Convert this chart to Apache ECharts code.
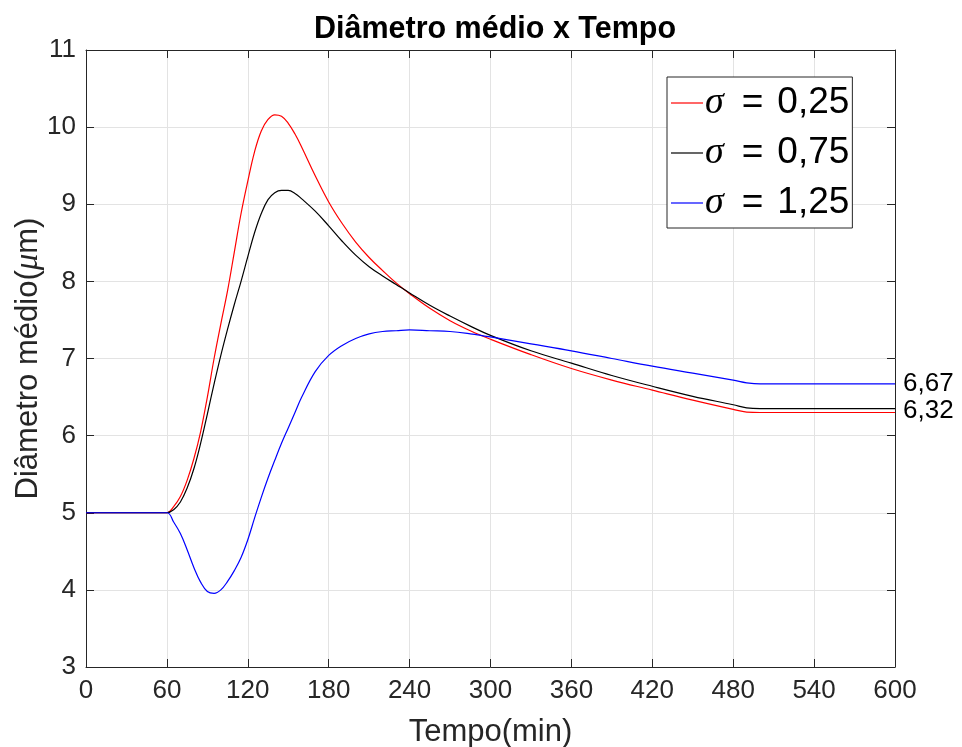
<!DOCTYPE html>
<html>
<head>
<meta charset="utf-8">
<script src="https://cdn.jsdelivr.net/npm/echarts@6/dist/echarts.min.js"></script>
<style>html,body{margin:0;padding:0;background:#fff;}#c{width:962px;height:747px;}</style>
</head>
<body>
<div id="c"></div>
<script>
var times = [0, 30, 60, 65, 70, 75, 80, 85, 90, 95, 100, 105, 110, 115, 120, 125, 130, 135, 140, 145, 150, 155, 160, 170, 180, 190, 200, 210, 220, 230, 240, 255, 270, 285, 300, 330, 360, 390, 420, 450, 480, 490, 500, 550, 600];
var sigma025 = [5, 5, 5, 5.08, 5.21, 5.42, 5.7, 6.05, 6.5, 7.0, 7.45, 7.88, 8.38, 8.88, 9.3, 9.68, 9.95, 10.1, 10.16, 10.14, 10.05, 9.91, 9.74, 9.37, 9.03, 8.75, 8.51, 8.31, 8.14, 7.98, 7.84, 7.65, 7.49, 7.36, 7.25, 7.05, 6.87, 6.72, 6.59, 6.46, 6.34, 6.305, 6.30, 6.30, 6.30];
var sigma075 = [5, 5, 5, 5.04, 5.14, 5.32, 5.57, 5.9, 6.28, 6.67, 7.04, 7.38, 7.7, 8.0, 8.32, 8.63, 8.88, 9.06, 9.15, 9.18, 9.18, 9.14, 9.07, 8.91, 8.72, 8.52, 8.34, 8.19, 8.07, 7.96, 7.85, 7.69, 7.55, 7.42, 7.3, 7.1, 6.94, 6.78, 6.64, 6.51, 6.4, 6.36, 6.35, 6.35, 6.35];
var sigma125 = [5, 5, 5, 4.88, 4.73, 4.52, 4.29, 4.1, 3.98, 3.955, 4.0, 4.11, 4.25, 4.42, 4.65, 4.93, 5.2, 5.45, 5.68, 5.9, 6.1, 6.3, 6.5, 6.83, 7.04, 7.17, 7.26, 7.32, 7.35, 7.36, 7.37, 7.36, 7.35, 7.32, 7.28, 7.19, 7.10, 7.0, 6.90, 6.81, 6.72, 6.685, 6.67, 6.67, 6.67];
var seriesNames = ['σ = 0,25', 'σ = 0,75', 'σ = 1,25'];
var endLabels = ['6,67', '6,32'];
var endValues = [6.67, 6.32];
var xTicks = {min: 0, max: 600, interval: 60};
var yTicks = {min: 3, max: 11, interval: 1};

function pairs(ys) { return times.map(function (t, i) { return [t, ys[i]]; }); }

var FONT = 'Liberation Sans, Arial, Helvetica, sans-serif';
var SERIF = 'Liberation Serif, DejaVu Serif, serif';
var AX = '#262626';
var GRID = '#e3e3e3';

function lineSeries(name, ys, color, mp) {
  var s = {
    name: name, type: 'line', data: pairs(ys), showSymbol: false, symbol: 'none',
    smooth: 0.4,
    lineStyle: {color: color, width: 1.2}, itemStyle: {color: color},
    xAxisIndex: 0, yAxisIndex: 0, z: 3
  };
  if (mp) s.markPoint = mp;
  return s;
}
function endMark(label, value) {
  return {
    symbol: 'circle', symbolSize: 0, silent: true,
    data: [{coord: [600, value], value: label}],
    label: {show: true, position: 'right', distance: 8, formatter: label, color: '#000', fontSize: 26, fontFamily: FONT}
  };
}

var chart = echarts.init(document.getElementById('c'), null, {renderer: 'canvas'});
chart.setOption({
  backgroundColor: '#fff',
  animation: false,
  title: {
    text: 'Diâmetro médio x Tempo', left: 490, textAlign: 'center', top: 9,
    textStyle: {fontFamily: FONT, fontWeight: 'bold', fontSize: 30.5, color: '#000'}
  },
  grid: {left: 86, right: 67, top: 50, bottom: 80, containLabel: false, outerBoundsMode: 'none'},
  legend: {
    orient: 'vertical', left: 667, top: 77,
    data: seriesNames,
    backgroundColor: '#fff', borderColor: AX, borderWidth: 1,
    padding: [1, 3, 0, 4], itemGap: 0,
    icon: 'rect', itemWidth: 32, itemHeight: 1.2,
    formatter: function (n) {
      var parts = n.split(' = ');
      return '{s|σ}{g| }={g2| }' + parts[1];
    },
    textStyle: {
      fontFamily: FONT, fontSize: 37, color: '#000', lineHeight: 50, padding: [0, 0, 0, -3],
      rich: {
        s: {fontFamily: SERIF, fontStyle: 'italic', fontSize: 38, color: '#000', lineHeight: 50},
        g: {fontSize: 37, width: 18, lineHeight: 50},
        g2: {fontSize: 37, width: 14, lineHeight: 50}
      }
    }
  },
  xAxis: [{
    type: 'value', min: xTicks.min, max: xTicks.max, interval: xTicks.interval,
    name: 'Tempo(min)', nameLocation: 'middle', nameGap: 50, nameMoveOverlap: false,
    nameTextStyle: {fontFamily: FONT, fontSize: 31, color: AX},
    axisLine: {show: true, onZero: false, lineStyle: {color: AX, width: 1}},
    axisTick: {show: true, inside: true, length: 8, lineStyle: {color: AX}},
    axisLabel: {fontFamily: FONT, fontSize: 26, color: AX, margin: 11},
    splitLine: {show: true, lineStyle: {color: GRID, width: 1}}
  }, {
    type: 'value', position: 'top', min: xTicks.min, max: xTicks.max, interval: xTicks.interval,
    axisLine: {show: true, onZero: false, lineStyle: {color: AX, width: 1}},
    axisTick: {show: true, inside: true, length: 8, lineStyle: {color: AX}},
    axisLabel: {show: false}, splitLine: {show: false}
  }],
  yAxis: [{
    type: 'value', min: yTicks.min, max: yTicks.max, interval: yTicks.interval,
    name: 'Diâmetro médio({m|μ}m)', nameLocation: 'middle', nameGap: 41, nameRotate: 90, nameMoveOverlap: false,
    nameTextStyle: {fontFamily: FONT, fontSize: 31, color: AX, verticalAlign: 'bottom',
      rich: {m: {fontFamily: SERIF, fontStyle: 'italic', fontSize: 33, color: AX}}},
    axisLine: {show: true, onZero: false, lineStyle: {color: AX, width: 1}},
    axisTick: {show: true, inside: true, length: 8, lineStyle: {color: AX}},
    axisLabel: {fontFamily: FONT, fontSize: 26, color: AX, margin: 10},
    splitLine: {show: true, lineStyle: {color: GRID, width: 1}}
  }, {
    type: 'value', position: 'right', min: yTicks.min, max: yTicks.max, interval: yTicks.interval,
    axisLine: {show: true, onZero: false, lineStyle: {color: AX, width: 1}},
    axisTick: {show: true, inside: true, length: 8, lineStyle: {color: AX}},
    axisLabel: {show: false}, splitLine: {show: false}
  }],
  series: [
    lineSeries(seriesNames[0], sigma025, '#ff0000', endMark(endLabels[1], endValues[1])),
    lineSeries(seriesNames[1], sigma075, '#000000', null),
    lineSeries(seriesNames[2], sigma125, '#0000ff', endMark(endLabels[0], endValues[0]))
  ]
});
</script>
</body>
</html>
